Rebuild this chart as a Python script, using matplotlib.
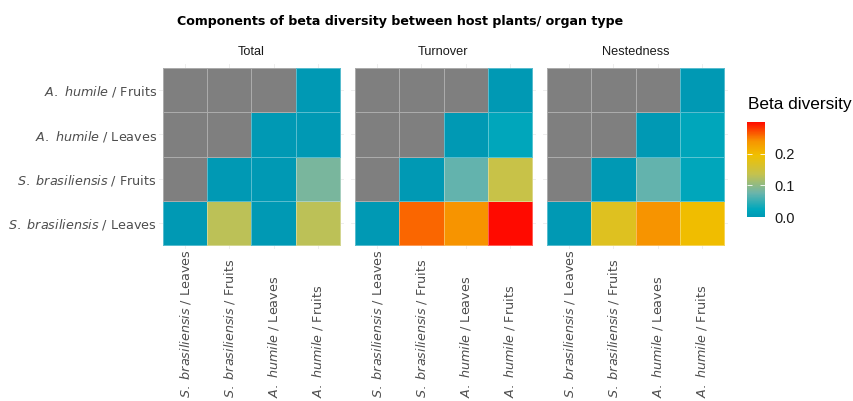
import numpy as np
import matplotlib.pyplot as plt
from matplotlib.colors import LinearSegmentedColormap, Normalize
from matplotlib.cm import ScalarMappable
from matplotlib.transforms import blended_transform_factory

W, H = 854, 401

# comparison groups, same order on both axes (y goes bottom -> top)
groups = ["S. brasiliensis / Leaves", "S. brasiliensis / Fruits",
          "A. humile / Leaves", "A. humile / Fruits"]
panels = ["Total", "Turnover", "Nestedness"]

nan = np.nan
# rows = y group (bottom to top), columns = x group
total = [[0.0, 0.13, 0.0, 0.13],
         [nan, 0.0, 0.0, 0.085],
         [nan, nan, 0.0, 0.0],
         [nan, nan, nan, 0.0]]
turnover = [[0.0, 0.26, 0.24, 0.30],
            [nan, 0.0, 0.072, 0.14],
            [nan, nan, 0.0, 0.02],
            [nan, nan, nan, 0.0]]
nestedness = [[0.0, 0.17, 0.24, 0.198],
              [nan, 0.0, 0.072, 0.02],
              [nan, nan, 0.0, 0.02],
              [nan, nan, nan, 0.0]]
values = [total, turnover, nestedness]

vmax = 0.30
cmap = LinearSegmentedColormap.from_list("beta", [
    (0.00, "#0099B4"), (0.08, "#00A8BC"), (0.25, "#6AB4AC"),
    (0.45, "#C4C24E"), (0.65, "#F0C000"), (0.80, "#F79400"),
    (1.00, "#FF0A00")])
cmap.set_bad("#7F7F7F")
norm = Normalize(0, vmax)


def box(x, y, w, h):
    # pixel box (top-left origin) -> figure fraction
    return [x / W, 1 - (y + h) / H, w / W, h / H]


def label(g):
    sp, org = g.split(" / ")
    return r"$\mathit{" + sp.replace(" ", r"\ ") + "}$ / " + org


fig = plt.figure(figsize=(W / 100, H / 100), dpi=100)
fig.patch.set_facecolor("white")

tile = 177
m = 4
pad = m / (tile / 4)
for k, (name, vals) in enumerate(zip(panels, values)):
    x0 = 163 + k * 192
    ax = fig.add_axes(box(x0 - m, 68 - m, tile + 2 * m, tile + 2 * m))
    ax.set_axisbelow(True)
    ax.grid(color="#EBEBEB", lw=0.6)
    data = np.ma.masked_invalid(np.array(vals))
    ax.pcolormesh(np.arange(5) - 0.5, np.arange(5) - 0.5, data, cmap=cmap,
                  norm=norm, edgecolor=(1, 1, 1, 0.35), linewidth=0.5)
    ax.set_xlim(-0.5 - pad, 3.5 + pad)
    ax.set_ylim(-0.5 - pad, 3.5 + pad)
    for s in ax.spines.values():
        s.set_visible(False)
    ax.tick_params(length=0, labelsize=9.2, labelcolor="#4D4D4D", pad=1.5)
    ax.set_xticks(range(4))
    ax.set_xticklabels([])
    # x labels rotated, aligned on their start at the bottom
    tr = blended_transform_factory(ax.transData, fig.transFigure)
    for i, g in enumerate(groups):
        ax.text(i, 1 - 398 / H, label(g), transform=tr, rotation=90,
                ha="center", va="bottom", fontsize=9.2, color="#4D4D4D")
    ax.set_yticks(range(4))
    if k == 0:
        ax.set_yticklabels([label(g) for g in groups])
    else:
        ax.set_yticklabels([])
    fig.text((x0 + tile / 2) / W, 1 - 52 / H, name, family="Liberation Sans",
             fontsize=9.2, color="#1A1A1A", ha="center", va="center")

fig.text(400 / W, 1 - 21 / H,
         "Components of beta diversity between host plants/ organ type",
         fontsize=9.1, fontweight="bold", ha="center", va="center")

# colour legend
fig.text(748 / W, 1 - 105 / H, "Beta diversity", family="Liberation Sans",
         fontsize=12.4, ha="left", va="center")
cax = fig.add_axes(box(747, 122, 18, 95))
cb = fig.colorbar(ScalarMappable(norm=norm, cmap=cmap), cax=cax)
cb.outline.set_visible(False)
cb.set_ticks([0.0, 0.1, 0.2])
cb.set_ticklabels(["0.0", "0.1", "0.2"])
cax.tick_params(direction="in", color="white", length=3.5, width=0.6,
                left=True, right=True, pad=7)
for t in cax.get_yticklabels():
    t.set_family("Liberation Sans")
    t.set_fontsize(10.5)
    t.set_color("#1A1A1A")

fig.savefig("out.png", dpi=100)
